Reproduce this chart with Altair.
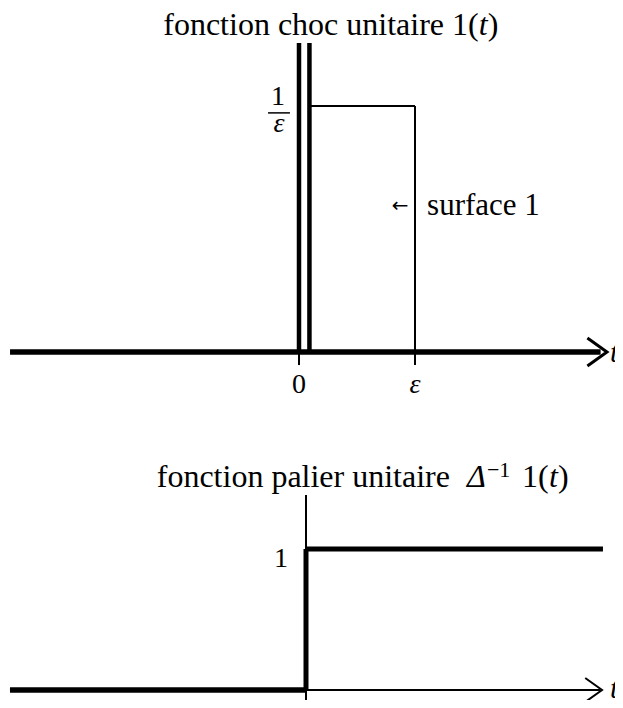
import altair as alt
import pandas as pd

FONT = "Liberation Serif"
W = 607
H = 692

# ---- data (diagram values) ----
eps = 1.0                      # width of the unit pulse
pulse_height = 1.0 / eps       # height 1/eps
impulse_bars_t = [0.0, 0.09]   # double bar drawn for the impulse
impulse_top = 1.256
step_height = 1.0

# top diagram axis extents
top_axis = [-2.491, 2.60]
top_arrow_tip = 2.655
top_tick_low = -0.053

# bottom diagram axis extents
bot_axis_left = -2.552
bot_axis_right = 2.534
bot_arrow_tip = 2.552
bot_vaxis = [-0.13, 1.383]
bot_step_end = 2.56

# scales (each diagram has its own, drawn over the same area)
top_x = alt.Scale(domain=[-2.5086, 2.7241], nice=False, zero=False)
top_y = alt.Scale(domain=[-1.41463, 1.39837], nice=False, zero=False)
bot_x = alt.Scale(domain=[-2.5690, 2.6638], nice=False, zero=False)
bot_y = alt.Scale(domain=[-0.07092, 4.83688], nice=False, zero=False)


def seg(rows, sx, sy, width):
    df = pd.DataFrame(rows, columns=["x", "x2", "y", "y2"])
    return alt.Chart(df).mark_rule(color="black", strokeWidth=width, strokeCap="butt").encode(
        x=alt.X("x:Q", scale=sx, axis=None),
        x2="x2:Q",
        y=alt.Y("y:Q", scale=sy, axis=None),
        y2="y2:Q",
    )


def txt(rows, sx, sy, size=30, style="normal", align="center", dx=0, dy=0, font=FONT):
    df = pd.DataFrame(rows, columns=["x", "y", "label"])
    return alt.Chart(df).mark_text(
        font=font, fontSize=size, fontStyle=style, align=align, baseline="alphabetic",
        color="black", dx=dx, dy=dy
    ).encode(
        x=alt.X("x:Q", scale=sx, axis=None),
        y=alt.Y("y:Q", scale=sy, axis=None),
        text="label:N",
    )


def arrow(x, sx, sy, size, width):
    df = pd.DataFrame({"x": [x], "y": [0.0]})
    return alt.Chart(df).mark_point(
        shape="M -1.4 -1 L 0 0 L -1.4 1", filled=False, size=size,
        strokeWidth=width, color="black", opacity=1, strokeJoin="miter"
    ).encode(
        x=alt.X("x:Q", scale=sx, axis=None),
        y=alt.Y("y:Q", scale=sy, axis=None),
    )


# ---------------- top diagram ----------------
top = alt.layer(
    seg([[top_axis[0], top_axis[1], 0, 0]], top_x, top_y, 5.5),
    arrow(top_arrow_tip, top_x, top_y, 784, 3),
    seg([[t, t, 0, impulse_top] for t in impulse_bars_t], top_x, top_y, 4.5),
    seg([[impulse_bars_t[1], eps, pulse_height, pulse_height],
         [eps, eps, top_tick_low, pulse_height],
         [0, 0, top_tick_low, 0]], top_x, top_y, 2),
    # fraction 1/eps
    seg([[-0.267, -0.078, 0.972, 0.972]], top_x, top_y, 1.5),
    txt([[-0.181, 1.004, "1"]], top_x, top_y, size=28),
    txt([[-0.172, 0.894, "ε"]], top_x, top_y, size=28, style="italic"),
    # tick labels
    txt([[0, -0.167, "0"]], top_x, top_y, size=28),
    txt([[eps, -0.167, "ε"]], top_x, top_y, size=28, style="italic"),
    txt([[2.68, -0.04, "t"]], top_x, top_y, size=30, style="italic", align="left"),
    # annotation
    txt([[0.871, 0.57, "←"]], top_x, top_y, size=20, font="DejaVu Sans"),
    txt([[1.104, 0.557, "surface 1"]], top_x, top_y, size=31, align="left"),
    # title
    txt([[1.549, 1.289, "fonction choc unitaire 1("]], top_x, top_y, size=32, align="right"),
    txt([[1.549, 1.289, "t"]], top_x, top_y, size=32, style="italic", align="left"),
    txt([[1.549, 1.289, ")"]], top_x, top_y, size=32, align="left", dx=9),
)

# ---------------- bottom diagram ----------------
bottom = alt.layer(
    seg([[bot_axis_left, 0, 0, 0]], bot_x, bot_y, 5.5),
    seg([[0, bot_axis_right, 0, 0]], bot_x, bot_y, 2),
    arrow(bot_arrow_tip, bot_x, bot_y, 576, 2),
    seg([[0, 0, bot_vaxis[0], bot_vaxis[1]]], bot_x, bot_y, 2),
    seg([[0, 0, 0, step_height], [0, bot_step_end, step_height, step_height]], bot_x, bot_y, 5),
    txt([[-0.216, 0.872, "1"]], bot_x, bot_y, size=28),
    txt([[2.62, -0.057, "t"]], bot_x, bot_y, size=30, style="italic", align="left"),
    # title
    txt([[1.241, 1.440, "fonction palier unitaire"]], bot_x, bot_y, size=32, align="right"),
    txt([[1.388, 1.440, "Δ"]], bot_x, bot_y, size=32, style="italic", align="left"),
    txt([[1.560, 1.511, "−1"]], bot_x, bot_y, size=22, align="left"),
    txt([[1.862, 1.440, "1("]], bot_x, bot_y, size=32, align="left"),
    txt([[2.095, 1.440, "t"]], bot_x, bot_y, size=32, style="italic", align="left"),
    txt([[2.172, 1.440, ")"]], bot_x, bot_y, size=32, align="left"),
)

chart = alt.layer(top, bottom).resolve_scale(x="independent", y="independent").properties(
    width=W, height=H, padding=0,
    autosize=alt.AutoSizeParams(type="none"), background="white"
).configure_view(stroke=None)

chart.save("out.html", embed_options={"renderer": "svg", "actions": False})
